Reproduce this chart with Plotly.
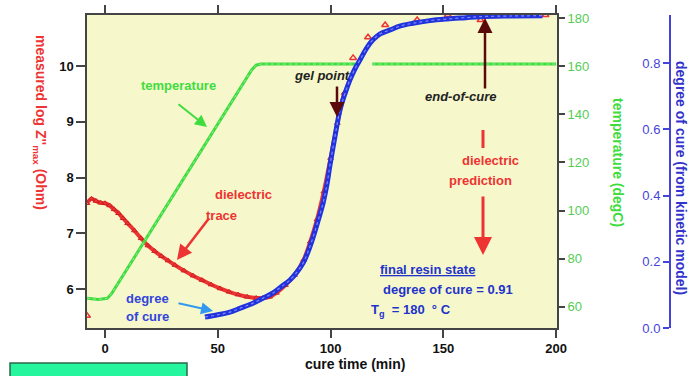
import plotly.graph_objects as go

# ---------------- data ----------------
# dielectric trace (left axis, log Z''max)
diel_x = [-8, -6, -4, -2, 0, 2, 4, 6, 8, 10, 13, 16, 19, 22, 25, 28, 31, 35, 39, 43, 47, 51, 55, 59, 63, 67, 70, 73,
          76, 80, 84, 88, 91, 94, 97, 100, 103, 106]
diel_y = [7.54, 7.62, 7.58, 7.55, 7.54, 7.50, 7.43, 7.36, 7.27, 7.18, 7.05, 6.91, 6.78, 6.68, 6.59, 6.51, 6.43, 6.33,
          6.24, 6.16, 6.08, 6.01, 5.95, 5.90, 5.86, 5.84, 5.84, 5.86,
          5.93, 6.07, 6.25, 6.52, 6.85, 7.25, 7.75, 8.35, 8.98, 9.52]
# sparse dielectric points
diel_pts_x = [-8, 110, 116.6, 124.2, 138.4, 152, 166.5, 180.6, 195.3]
diel_pts_y = [5.52, 10.15, 10.52, 10.74, 10.83, 10.92, 10.83, 10.92, 10.92]

# temperature (right green axis)
temp_x = [-8, -3, 1, 3, 65, 67, 69, 111, None, 118.5, 200]
temp_y = [63.5, 63, 63.5, 65.5, 158.5, 160.5, 161, 161, None, 161, 161]

# degree of cure (kinetic model, blue axis)
cure_x = [44.3, 50, 55.4, 60, 65.6, 70, 74.5, 78, 82, 85, 87.8, 90, 92.3, 94.5, 96.7, 98.3, 99.7, 102, 104.2,
          106.5, 108.6, 111, 113.1, 116, 118.8, 122, 126.4, 131, 136.5, 144, 151.7, 160, 166, 180, 194]
cure_y = [0.033, 0.040, 0.048, 0.060, 0.075, 0.090, 0.106, 0.124, 0.145, 0.168, 0.196, 0.230, 0.275, 0.325,
          0.378, 0.430, 0.490, 0.580, 0.659, 0.710, 0.749, 0.785, 0.810, 0.845, 0.870, 0.888, 0.900, 0.912,
          0.920, 0.928, 0.933, 0.937, 0.940, 0.942, 0.943]

x_ticks = [0, 50, 100, 150, 200]
left_ticks = [6, 7, 8, 9, 10]
temp_ticks = [60, 80, 100, 120, 140, 160, 180]
cure_ticks = [0.0, 0.2, 0.4, 0.6, 0.8]

# ---------------- geometry ----------------
W, H = 690, 376
ML, MR, MT, MB = 87, 10, 15, 48
PW = W - ML - MR
PH = H - MT - MB
X_RIGHT = 557


def P(px, py):
    return (px - ML) / PW, (H - MB - py) / PH


FONT = "Liberation Sans, Arial, sans-serif"
RED = "#ee3333"
GREEN = "#3fdc3f"
BLUE = "#2233dd"
DARK = "#222222"

fig = go.Figure()

fig.add_trace(go.Scatter(x=temp_x, y=temp_y, yaxis="y2", mode="lines",
                         line=dict(color=GREEN, width=3), connectgaps=False, showlegend=False))
fig.add_trace(go.Scatter(x=temp_x, y=temp_y, yaxis="y2", mode="lines",
                         line=dict(color="#8ff08f", width=1, dash="dot"), connectgaps=False, showlegend=False))
fig.add_trace(go.Scatter(x=diel_x, y=diel_y, mode="lines+markers",
                         line=dict(color=RED, width=4, shape="spline"),
                         marker=dict(symbol="triangle-up-open", size=5, color="#cc2020"),
                         showlegend=False))
fig.add_trace(go.Scatter(x=diel_pts_x, y=diel_pts_y, mode="markers",
                         marker=dict(symbol="triangle-up-open", size=6, color=RED, line=dict(width=1.5)),
                         showlegend=False))
fig.add_trace(go.Scatter(x=cure_x, y=cure_y, yaxis="y3", mode="lines",
                         line=dict(color=BLUE, width=5, shape="spline"), showlegend=False))
fig.add_trace(go.Scatter(x=cure_x, y=cure_y, yaxis="y3", mode="lines",
                         line=dict(color="#7d8bff", width=1.2, dash="dot", shape="spline"), showlegend=False))

fig.update_layout(
    width=W, height=H, autosize=False,
    margin=dict(l=ML, r=MR, t=MT, b=MB, autoexpand=False),
    paper_bgcolor="white",
    plot_bgcolor="#f6f8cb",
    font=dict(family=FONT),
    xaxis=dict(domain=[0, (X_RIGHT - ML) / PW], range=[-8, 200.4], tickvals=x_ticks, automargin=False,
               showgrid=False, zeroline=False, showline=True, linecolor="#444444", linewidth=1.5,
               mirror="ticks", ticks="outside", ticklen=8, tickcolor="#444444", tickwidth=1.5,
               tickfont=dict(family=FONT, size=13, color="#111111", weight="bold")),
    yaxis=dict(range=[5.3, 10.92], tickvals=left_ticks, showgrid=False, zeroline=False, automargin=False,
               showline=True, linecolor="#444444", linewidth=1.5, mirror=True,
               ticks="outside", ticklen=9, tickcolor="#444444", tickwidth=1.5,
               tickfont=dict(family=FONT, size=13, color="#111111", weight="bold")),
    yaxis2=dict(range=[51.1, 181.4], tickvals=temp_ticks, overlaying="y", side="right", anchor="x",
                showgrid=False, zeroline=False, showline=False, automargin=False,
                ticks="outside", ticklen=7, tickcolor="#444444", tickwidth=1.5,
                tickfont=dict(family=FONT, size=13, color="#55cc55")),
    yaxis3=dict(range=[0, 0.945], tickvals=cure_ticks, tickformat=".1f", overlaying="y",
                anchor="free", position=(670 - ML) / PW, side="left", automargin=False,
                showgrid=False, zeroline=False, showline=True, linecolor="#4444dd", linewidth=2,
                ticks="outside", ticklen=6, tickcolor="#4444dd", tickwidth=2,
                tickfont=dict(family=FONT, size=13, color="#4444dd")),
)

ann = []


def text(px, py, s, color, size=13, angle=0, bold=True, italic=False):
    x, y = P(px, py)
    t = s
    if italic:
        t = "<i>" + t + "</i>"
    if bold:
        t = "<b>" + t + "</b>"
    ann.append(dict(x=x, y=y, xref="paper", yref="paper", text=t, showarrow=False,
                    textangle=angle, xanchor="center", yanchor="middle",
                    font=dict(family=FONT, size=size, color=color)))


def arrow(tail, tip, color, width=2, head=2, hsize=1.2):
    x, y = P(*tip)
    ann.append(dict(x=x, y=y, xref="paper", yref="paper", text="", showarrow=True,
                    ax=tail[0] - tip[0], ay=tail[1] - tip[1], axref="pixel", ayref="pixel",
                    arrowhead=head, arrowsize=hsize, arrowwidth=width, arrowcolor=color))


# axis titles
text(40, 122, "measured log Z''<sub>max</sub> (Ohm)", RED, size=14, angle=90)
text(618, 162, "temperature (degC)", GREEN, size=14, angle=90)
text(681, 178, "degree of cure (from kinetic model)", "#3333cc", size=14, angle=90)
text(355, 364, "cure time (min)", "#111111", size=14)

# in-plot labels
text(178, 85, "temperature", GREEN)
arrow((177, 103), (207, 127), GREEN, width=2)
text(322, 75, "gel point", DARK, italic=True)
arrow((337, 85), (337, 117), "#5a0a0a", width=2.5)
text(461, 97, "end-of-cure", DARK, italic=True)
arrow((485, 90), (485, 18), "#5a0a0a", width=2.5)
text(490, 160, "dielectric", RED)
text(480, 180, "prediction", RED)
arrow((483, 195), (483, 255), RED, width=3)
text(243, 195, "dielectric", RED)
text(221, 215, "trace", RED)
arrow((210, 217), (177, 260), RED, width=2.5)
text(147, 298, "degree", "#3344dd")
text(147, 316, "of cure", "#3344dd")
arrow((177, 303), (213, 311), "#3399ee", width=2)
text(427, 269, "<u>final resin state</u>", "#2233cc")
text(448, 289, "degree of cure = 0.91", "#2233cc")
text(411, 310, "T<sub>g</sub>  = 180  ° C", "#2233cc")

fig.update_layout(annotations=ann)

# short red bar above "dielectric prediction" and the green box at the bottom
bx0, by0 = P(483, 130)
bx1, by1 = P(483, 148)
gx0, gy0 = P(10, 363)
gx1, gy1 = P(187, 378)
fig.update_layout(shapes=[
    dict(type="line", xref="paper", yref="paper", x0=bx0, y0=by0, x1=bx1, y1=by1,
         line=dict(color=RED, width=3)),
    dict(type="rect", xref="paper", yref="paper", x0=gx0, y0=gy0, x1=gx1, y1=gy1,
         fillcolor="#25f59c", line=dict(color="#2a6a4a", width=1.5)),
])

fig.write_html("out.html", config={"displayModeBar": False},
               post_script="document.body.style.margin='0px';document.body.style.overflow='hidden';")
